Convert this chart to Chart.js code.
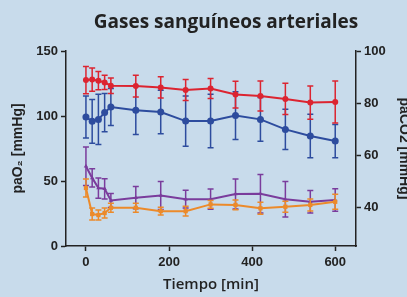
<!DOCTYPE html>
<html><head><meta charset="utf-8">
<script src="https://cdn.jsdelivr.net/npm/chart.js@4.4.1/dist/chart.umd.min.js"></script>
<style>
html,body{margin:0;padding:0;background:#c8dbeb;overflow:hidden;width:407px;height:297px;}
#wrap{position:relative;width:412px;height:297px;}
canvas{display:block;}
</style></head><body>
<div id="wrap"><canvas id="c" width="412" height="297"></canvas></div>
<script>
const chartTitle = 'Gases sanguíneos arteriales';
const xTitle = 'Tiempo [min]';
const yLeftTitle = 'paO₂ [mmHg]';
const yRightTitle = 'paCO2 [mmHg]';

const times = [0, 15, 30, 45, 60, 120, 180, 240, 300, 360, 420, 480, 540, 600];
const xTicks = [0, 200, 400, 600];
const yLeftTicks = [0, 50, 100, 150];
const yRightTicks = [40, 60, 80, 100];

// paO2 (left axis)
const paO2Red = [127.6, 128, 127.2, 125.8, 123.3, 123, 122, 120, 121.2, 116.5, 115.4, 113.1, 110.3, 110.8];
const paO2RedSD = [10.5, 9, 7, 5.5, 6, 8.3, 8.2, 8, 7.7, 10.3, 11.6, 12, 12.8, 16.2];
const paO2Blue = [99.2, 95.9, 97.4, 102.6, 106.9, 104.4, 103.1, 96.1, 96.1, 100.3, 97.4, 89.7, 84.6, 80.7];
const paO2BlueSD = [16.2, 16.8, 19.3, 14.7, 14.2, 18.6, 16.7, 19.3, 20.6, 18.3, 16.8, 15.5, 16.7, 12.8];
// paCO2 (right axis)
const paCO2Purple = [55.7, 51.2, 47.3, 47.0, 42.5, 43.6, 44.4, 43.0, 43.0, 45.0, 45.1, 43.0, 42.0, 42.7];
const paCO2PurpleSD = [7.4, 3.5, 3.9, 3.9, 2.7, 4.3, 5.4, 3.4, 3.9, 5.8, 7.4, 6.8, 4.3, 4.3];
const paCO2Orange = [47.3, 37.3, 36.9, 37.7, 39.7, 39.7, 38.4, 38.4, 41.0, 40.8, 39.5, 40.1, 40.8, 42.0];
const paCO2OrangeSD = [3.5, 2.3, 1.9, 1.9, 1.7, 1.7, 1.5, 1.9, 1.5, 1.9, 2.3, 2.1, 2.3, 2.9];

const RED = '#dc2430', BLUE = '#2d4c9e', PURPLE = '#7a3c9c', ORANGE = '#ec8a2a', AXIS = '#222';

function pts(vals) { return times.map((t, i) => ({x: t, y: vals[i]})); }

const errorBars = {
  id: 'errorBars',
  beforeDatasetDraw(chart, args) {
    const ds = chart.data.datasets[args.index];
    if (!ds.errors) return;
    const ys = chart.scales[ds.yAxisID];
    const ctx = chart.ctx;
    ctx.save();
    ctx.strokeStyle = ds.borderColor;
    ctx.lineWidth = 1.5;
    args.meta.data.forEach((pt, i) => {
      const v = ds.data[i].y, e = ds.errors[i];
      const x = pt.x;
      const y1 = ys.getPixelForValue(v + e), y2 = ys.getPixelForValue(v - e);
      ctx.beginPath();
      ctx.moveTo(x, y1); ctx.lineTo(x, y2);
      ctx.moveTo(x - 3, y1); ctx.lineTo(x + 3, y1);
      ctx.moveTo(x - 3, y2); ctx.lineTo(x + 3, y2);
      ctx.stroke();
    });
    ctx.restore();
  }
};

const titlePlugin = {
  id: 'topTitle',
  afterDraw(chart) {
    const ctx = chart.ctx;
    ctx.save();
    ctx.font = 'bold 19px "Open Sans", "DejaVu Sans", sans-serif';
    ctx.fillStyle = AXIS;
    ctx.textAlign = 'center';
    ctx.textBaseline = 'alphabetic';
    ctx.fillText(chartTitle, 226, 28);
    ctx.restore();
  }
};

const tickFont = {family: '"Liberation Sans", Arial, sans-serif', size: 13, weight: 'bold'};
const axisTitleFont = {family: '"Liberation Sans", Arial, "DejaVu Sans", sans-serif', size: 14, weight: 'bold'};

function mkDs(label, vals, errs, color, axis, style, r, order) {
  return {
    label, data: pts(vals), errors: errs, yAxisID: axis,
    borderColor: color, backgroundColor: color, borderWidth: 2,
    pointStyle: style, pointRadius: r, pointBorderWidth: 0, pointBackgroundColor: color,
    tension: 0, order
  };
}

new Chart(document.getElementById('c'), {
  type: 'line',
  data: {
    datasets: [
      mkDs('paCO2 naranja', paCO2Orange, paCO2OrangeSD, ORANGE, 'y2', 'rect', 3, 1),
      mkDs('paCO2 morado', paCO2Purple, paCO2PurpleSD, PURPLE, 'y2', 'triangle', 2.5, 2),
      mkDs('paO2 rojo', paO2Red, paO2RedSD, RED, 'y', 'circle', 3, 3),
      mkDs('paO2 azul', paO2Blue, paO2BlueSD, BLUE, 'y', 'circle', 3.5, 4)
    ]
  },
  options: {
    responsive: false, animation: false, devicePixelRatio: 1,
    layout: {padding: {top: 51, left: 0, right: 0, bottom: 0}},
    plugins: {legend: {display: false}, tooltip: {enabled: false}, title: {display: false}},
    scales: {
      x: {
        type: 'linear', min: -48, max: 650,
        afterBuildTicks: s => { s.ticks = xTicks.map(v => ({value: v})); },
        afterFit: s => { s.height = 51; },
        grid: {drawOnChartArea: false, drawTicks: true, tickLength: 5, tickWidth: 1.5, tickColor: AXIS},
        border: {display: true, color: AXIS, width: 1.5},
        ticks: {font: tickFont, color: AXIS, padding: 4, maxRotation: 0},
        title: {display: true, text: xTitle, color: AXIS, font: {family: '"Open Sans", sans-serif', size: 15, weight: '600'}, padding: {top: 0, bottom: 3}}
      },
      y: {
        type: 'linear', position: 'left', min: 0, max: 150,
        afterBuildTicks: s => { s.ticks = yLeftTicks.map(v => ({value: v})); },
        afterFit: s => { s.width = 66; },
        grid: {drawOnChartArea: false, drawTicks: true, tickLength: 5, tickWidth: 1.5, tickColor: AXIS},
        border: {display: true, color: AXIS, width: 1.5},
        ticks: {font: tickFont, color: AXIS, padding: 3},
        title: {display: true, text: yLeftTitle, color: AXIS, font: axisTitleFont, padding: {top: 10, bottom: 0}}
      },
      y2: {
        type: 'linear', position: 'right', min: 25, max: 100,
        afterBuildTicks: s => { s.ticks = yRightTicks.map(v => ({value: v})); },
        afterFit: s => { s.width = 56; },
        grid: {drawOnChartArea: false, drawTicks: true, tickLength: 5, tickWidth: 1.5, tickColor: AXIS},
        border: {display: true, color: AXIS, width: 1.5},
        ticks: {font: tickFont, color: AXIS, padding: 3},
        title: {display: true, text: yRightTitle, color: AXIS, font: axisTitleFont, padding: {top: 0, bottom: 0}}
      }
    }
  },
  plugins: [errorBars, titlePlugin]
});
</script>
</body></html>
